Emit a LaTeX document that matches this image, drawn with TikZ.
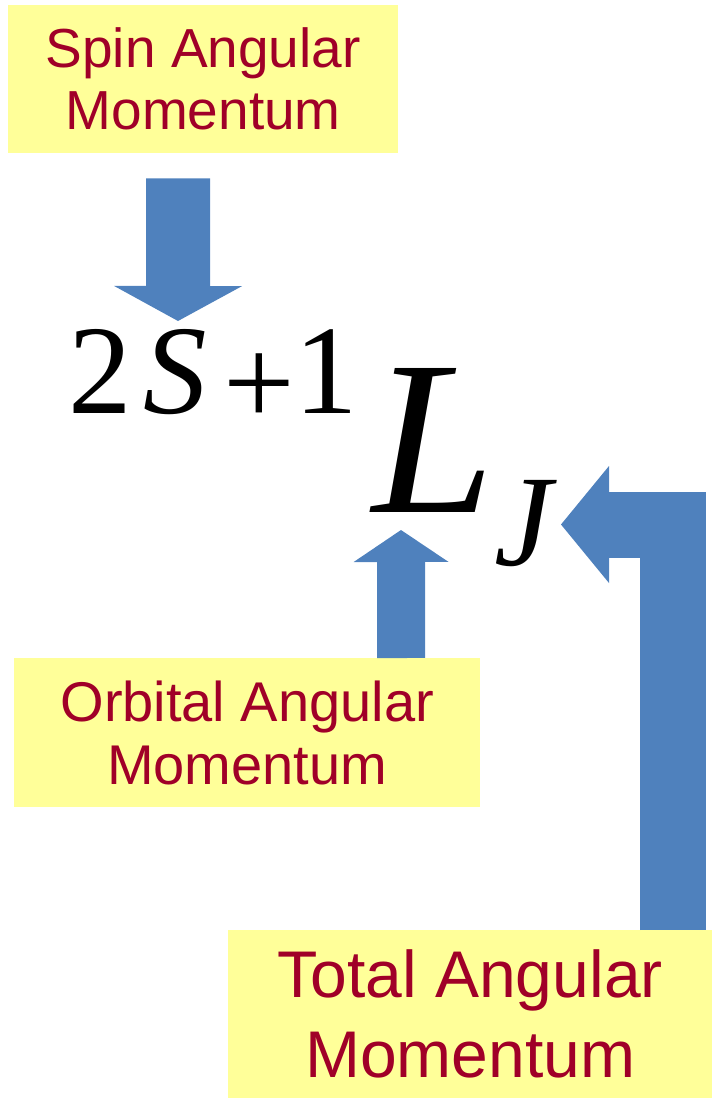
\documentclass[tikz,border=0pt]{standalone}
\usepackage{fontspec}
\setmainfont{Liberation Sans}
\newfontfamily\timesfont{Liberation Serif}
\usetikzlibrary{arrows.meta}
\definecolor{notebg}{RGB}{255,255,153}
\definecolor{notetext}{RGB}{160,0,40}
\definecolor{arrowblue}{RGB}{79,129,189}
\tikzset{
  notebox/.style={fill=notebg, text=notetext, align=center, inner sep=0pt, anchor=north west},
  symbol/.style={inner sep=0pt, anchor=base west},
  blockarrow/.style={draw=arrowblue, line width=#1, line join=miter},
}
\begin{document}
\begin{tikzpicture}[x=1pt,y=-1pt]
\useasboundingbox (0,0) rectangle (712,1098);
% labels
\node[notebox, minimum width=390pt, minimum height=148pt, font=\fontsize{55}{62}\selectfont] (spin) at (8,5) {Spin Angular\\Momentum};
\node[notebox, minimum width=466pt, minimum height=149pt, font=\fontsize{56}{63}\selectfont] (orbital) at (14,658) {Orbital Angular\\Momentum};
\node[notebox, minimum width=484pt, minimum height=168pt, font=\fontsize{66}{80}\selectfont] (total) at (228,930) {Total Angular\\Momentum};
% term symbol
\node[symbol, font=\timesfont\fontsize{127}{127}\selectfont] (mult) at (68,413) {2\kern12pt\textit{S}\kern16pt\raisebox{-12pt}{+}1};
\node[symbol, font=\timesfont\fontsize{220}{220}\selectfont\itshape] (orb) at (372,512) {L};
\node[symbol, font=\timesfont\fontsize{130}{130}\selectfont\itshape] (tot) at (494,565) {J};
% arrows
\coordinate (stip) at (178,321);
\coordinate (ltip) at (401,530);
\coordinate (jtip) at (561,524.5);
\draw[blockarrow=64pt, -{Triangle[length=35pt,width=128pt,line width=0pt]}] ([xshift=-25pt,yshift=-25pt]spin.south) -- (stip);
\draw[blockarrow=48pt, -{Triangle[length=32pt,width=95pt,line width=0pt]}] ([xshift=154pt]orbital.north) -- (ltip);
\draw[blockarrow=66pt, -{Triangle[length=48pt,width=117pt,line width=0pt]}] ([xshift=-39pt]total.north east) |- (jtip);
\end{tikzpicture}
\end{document}
